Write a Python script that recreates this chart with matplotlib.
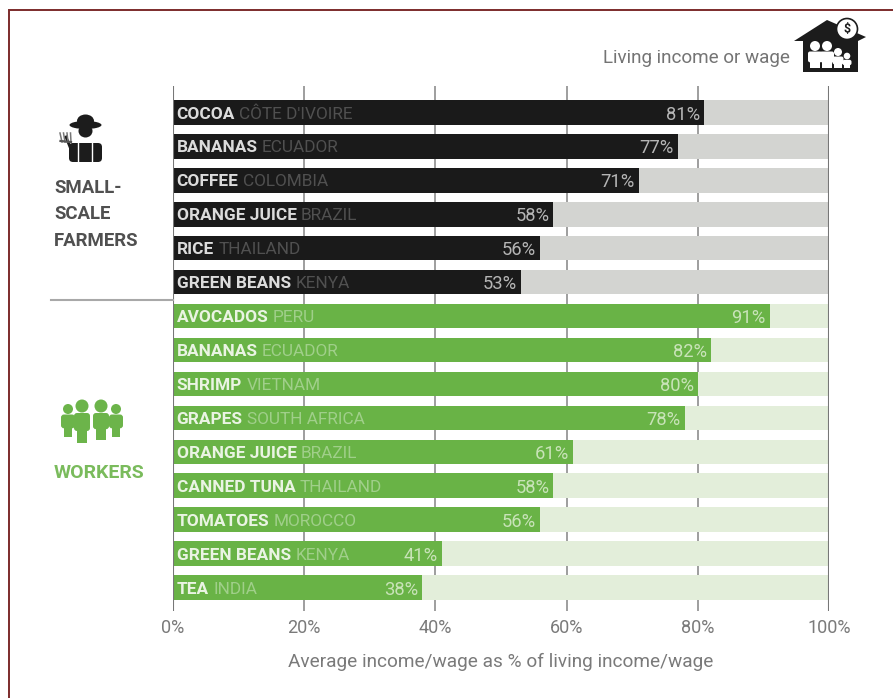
import matplotlib
matplotlib.use("Agg")
import matplotlib.pyplot as plt
from matplotlib.patches import Circle, Ellipse, Polygon, Rectangle, FancyBboxPatch

W, H = 893, 698

farmer_products = ["COCOA", "BANANAS", "COFFEE", "ORANGE JUICE", "RICE", "GREEN BEANS"]
farmer_countries = ["CÔTE D'IVOIRE", "ECUADOR", "COLOMBIA", "BRAZIL", "THAILAND", "KENYA"]
farmer_values = [81, 77, 71, 58, 56, 53]

worker_products = ["AVOCADOS", "BANANAS", "SHRIMP", "GRAPES", "ORANGE JUICE",
                   "CANNED TUNA", "TOMATOES", "GREEN BEANS", "TEA"]
worker_countries = ["PERU", "ECUADOR", "VIETNAM", "SOUTH AFRICA", "BRAZIL",
                    "THAILAND", "MOROCCO", "KENYA", "INDIA"]
worker_values = [91, 82, 80, 78, 61, 58, 56, 41, 38]

x_ticks = [0, 20, 40, 60, 80, 100]
x_tick_labels = ["0%", "20%", "40%", "60%", "80%", "100%"]

BLACK, GREY_BG = "#1a1a1a", "#d3d4d1"
GREEN, GREEN_BG = "#69b346", "#e3eeda"
FONT = "Roboto"

fig = plt.figure(figsize=(W / 100, H / 100), dpi=100, facecolor="white")

# Main chart: 0-100 % across, one row per product from the top down
left, right, top, bottom = 173, 829, 86, 611
ax = fig.add_axes([left / W, 1 - bottom / H, (right - left) / W, (bottom - top) / H])
row0, pitch = 112.5, 33.93
ax.set_xlim(0, 100)
ax.set_ylim((bottom - row0) / pitch, (top - row0) / pitch)
ax.set_yticks([])
for side in ax.spines.values():
    side.set_visible(False)

for t in x_ticks:
    edge = t in (0, 100)
    ax.axvline(t, color="#777777" if edge else "#969696", lw=1.5 if edge else 1.3,
               zorder=3 if edge else 1)

ax.set_xticks(x_ticks, x_tick_labels, fontname=FONT, fontsize=13, color="#7a7a7a")
ax.tick_params(axis="x", length=0, pad=6)
ax.set_xlabel("Average income/wage as % of living income/wage", fontname=FONT,
              fontsize=13.7, color="#7a7a7a", labelpad=11)

products = farmer_products + worker_products
countries = farmer_countries + worker_countries
values = farmer_values + worker_values
bar_h = 24.5 / pitch

fig.canvas.draw()
renderer = fig.canvas.get_renderer()

for i, (prod, country, val) in enumerate(zip(products, countries, values)):
    farmer = i < len(farmer_values)
    fg, bg = (BLACK, GREY_BG) if farmer else (GREEN, GREEN_BG)
    name_c, country_c, pct_c = (("#dcdcdc", "#505050", "#b5b5b5") if farmer
                                else ("#eaf4e3", "#a0cf8a", "#c8e3b8"))
    ax.barh(i, 100, height=bar_h, color=bg, zorder=2)
    ax.barh(i, val, height=bar_h, color=fg, zorder=2.5)
    name = ax.annotate(prod, (0, i), xytext=(2.6, 0), textcoords="offset points",
                       va="center_baseline", ha="left", fontname=FONT, fontweight="bold",
                       fontsize=12.4, color=name_c, zorder=4)
    box = name.get_window_extent(renderer)
    ax.annotate(country, (0, i), xytext=(2.6 + box.width * 0.72 + 3.2, 0),
                textcoords="offset points", va="center_baseline", ha="left",
                fontname=FONT, fontsize=12.4, color=country_c, zorder=4)
    ax.annotate(f"{val}%", (val, i), xytext=(-3, 0), textcoords="offset points",
                va="center_baseline", ha="right", fontname=FONT, fontsize=13.2,
                color=pct_c, zorder=4)

# Overlay in pixel coordinates for the frame, side labels and pictograms
ov = fig.add_axes([0, 0, 1, 1], zorder=5)
ov.set_xlim(0, W)
ov.set_ylim(H, 0)
ov.axis("off")
ov.patch.set_alpha(0)

ov.plot([8.5, 8.5, W], [H, 9.5, 9.5], color="#7c2b2b", lw=1.4, solid_joinstyle="miter")
ov.plot([51, 173], [300, 300], color="#a8a8a8", lw=1.5)

for y, line in zip((188, 214, 241), ("SMALL-", "SCALE", "FARMERS")):
    ov.text(54, y, line, fontname=FONT, fontweight="bold", fontsize=13.4,
            color="#505050", va="center", ha="left")
ov.text(54, 472.5, "WORKERS", fontname=FONT, fontweight="bold", fontsize=14,
        color="#7abb5c", va="center", ha="left")
ov.text(790, 58, "Living income or wage", fontname=FONT, fontsize=13.6,
        color="#747474", va="center", ha="right")

def add(patch):
    ov.add_patch(patch)

# Farmer with hat and pitchfork
ink = "#1c1c1c"
add(Ellipse((85.5, 125), 32, 8, color=ink, lw=0))
add(Ellipse((85.5, 121), 17, 13, color=ink, lw=0))
add(Ellipse((85.5, 131), 14, 13, color=ink, lw=0))
add(FancyBboxPatch((69, 143), 33, 19, boxstyle="round,pad=0,rounding_size=4", color=ink, lw=0))
for x in (78, 92):
    ov.plot([x, x], [142, 162], color="white", lw=1.0)
ov.plot([66, 72], [137, 152], color=ink, lw=2)
for x0, x1 in ((60, 62), (63.5, 65), (67, 68), (70.5, 71)):
    ov.plot([x0, x1], [133, 142], color="#777777", lw=1.1)
ov.plot([60.5, 71], [141, 142], color="#555555", lw=1.6)

# Group of four workers
def person(cx, head_y, r, w, h, colour):
    add(Circle((cx, head_y), r, color=colour, lw=0))
    add(FancyBboxPatch((cx - w / 2, head_y + r + 0.5), w, h * 0.6,
                       boxstyle="round,pad=0,rounding_size=3", color=colour, lw=0))
    add(Rectangle((cx - w * 0.3, head_y + r + h * 0.4), w * 0.6, h * 0.6, color=colour, lw=0))

worker_green = "#6cb44a"
for cx, hy, r, w, h in ((68, 409, 5, 14, 23), (116, 409, 5, 14, 23),
                        (82, 406, 6.5, 16, 30), (101, 406, 6.5, 16, 27)):
    person(cx, hy, r, w, h, worker_green)

# House with family and coin
add(Polygon([(794, 41), (827, 20), (866, 37), (858, 41), (858, 72), (803, 72), (803, 41)],
            closed=True, color=ink, lw=0))
for cx, hy, r, w, h in ((815, 46, 5, 14, 18), (827, 46, 5, 14, 18),
                        (838, 52, 4, 11, 13), (847, 56, 3.3, 9, 9)):
    add(Circle((cx, hy), r, color="white", lw=0))
    add(FancyBboxPatch((cx - w / 2, hy + r + 0.5), w, h * 0.6,
                       boxstyle="round,pad=0,rounding_size=2", color="white", lw=0))
    add(Rectangle((cx - w * 0.35, hy + r + h * 0.4), w * 0.7, h * 0.55, color="white", lw=0))
add(Circle((847, 29), 10.5, facecolor="white", edgecolor=ink, lw=1.2))
ov.text(847, 29, "$", fontname=FONT, fontweight="bold", fontsize=9, color=ink,
        ha="center", va="center")

fig.savefig("out.png", dpi=100)
